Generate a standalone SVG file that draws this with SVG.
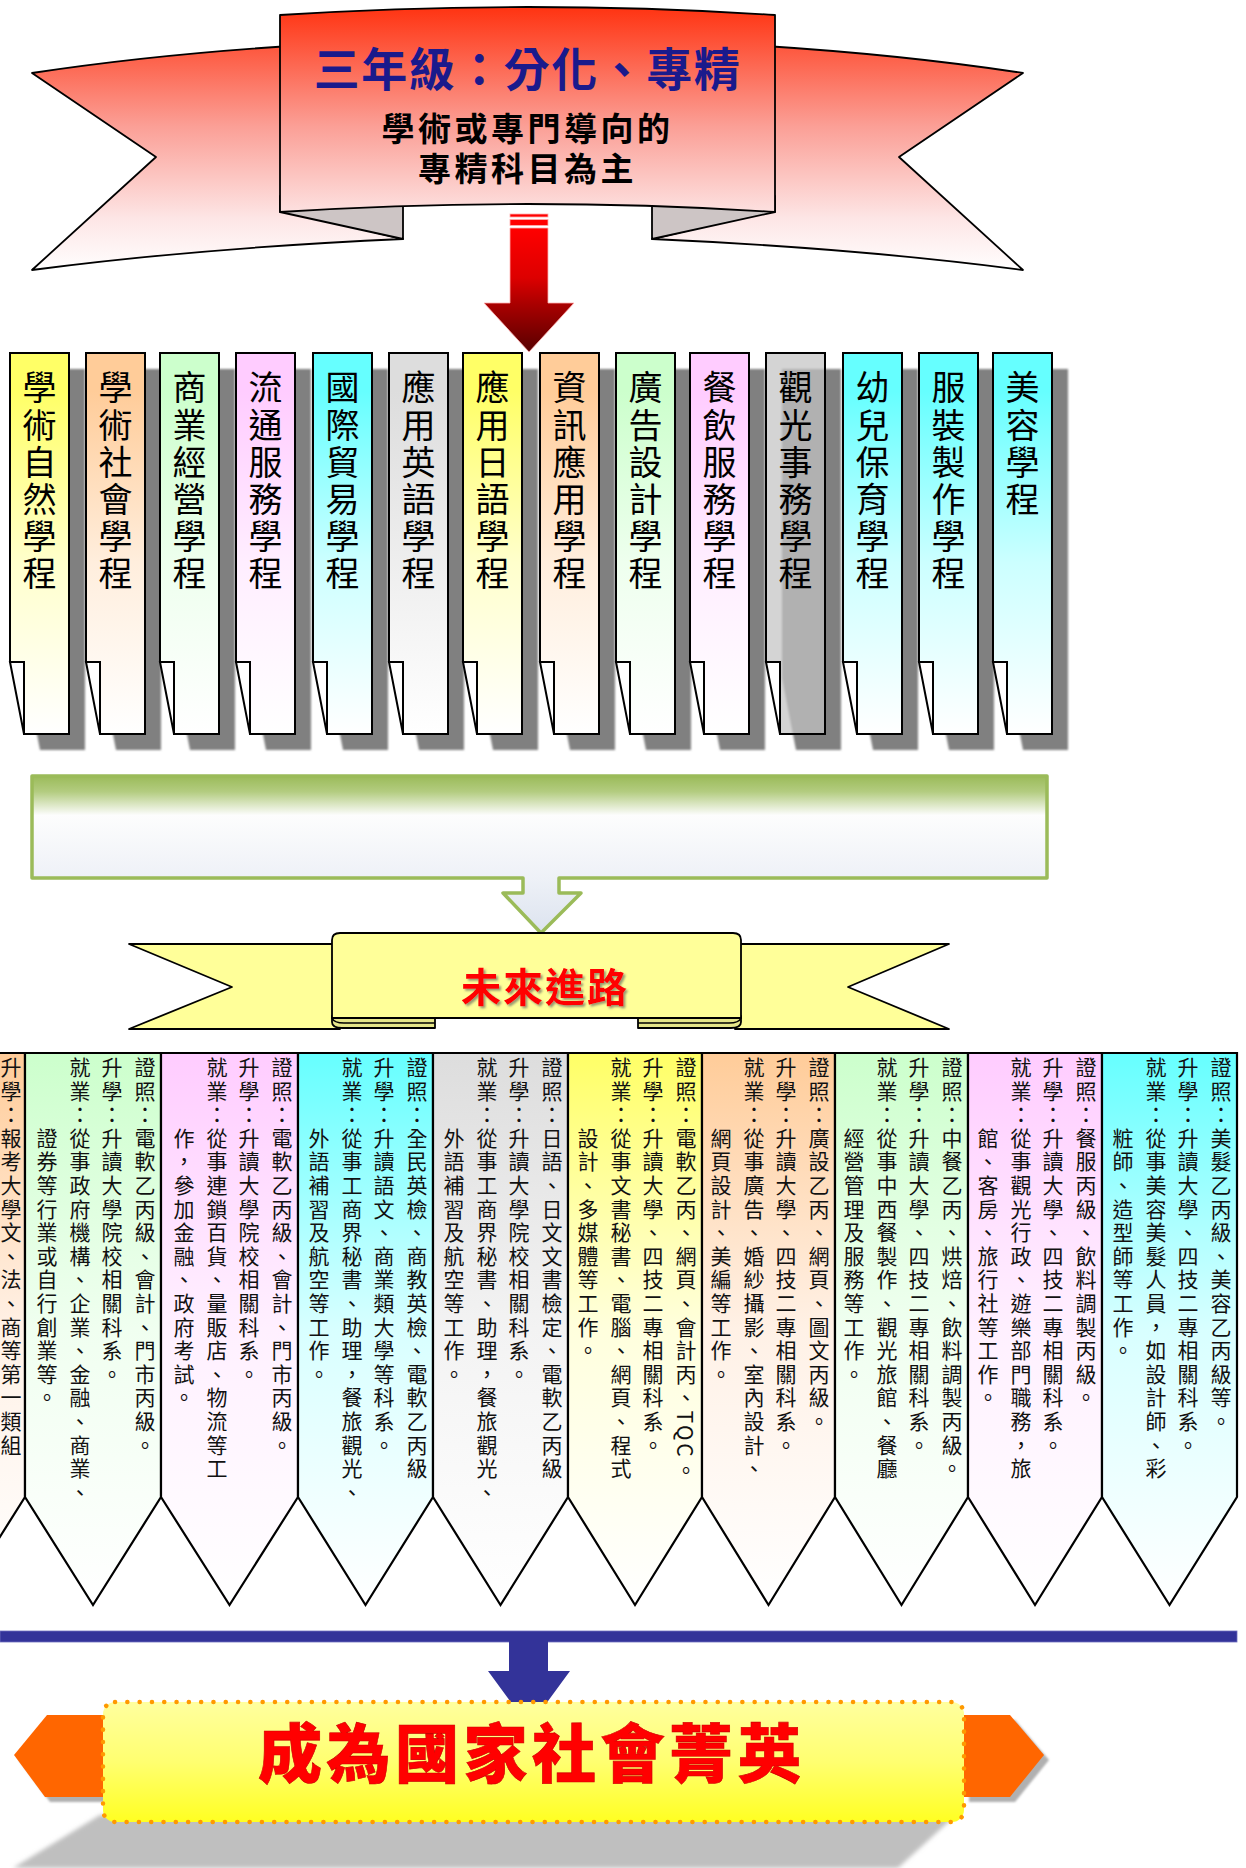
<svg xmlns="http://www.w3.org/2000/svg" width="1246" height="1868" viewBox="0 0 1246 1868">
<style>
text{font-family:'Noto Sans CJK TC','Noto Sans CJK SC',sans-serif;}
.v{writing-mode:vertical-rl;}
.tabt{font-size:34px;letter-spacing:3.1px;fill:#000;}
.pt{font-size:21px;letter-spacing:2.6px;fill:#111;}
.tab{stroke:#000;stroke-width:2;}
.flap{fill:#fff;stroke:#000;stroke-width:2;stroke-linejoin:miter;}
.pen{stroke:#000;stroke-width:2.2;stroke-linejoin:miter;}
.blk{stroke:#000;stroke-width:1.8;stroke-linejoin:round;}
</style>
<defs>
<linearGradient id="gBan" gradientUnits="userSpaceOnUse" x1="0" y1="7" x2="0" y2="272">
<stop offset="0" stop-color="#ff3311"/><stop offset="0.45" stop-color="#fb9f96"/><stop offset="0.8" stop-color="#fde6e6"/><stop offset="1" stop-color="#ffffff"/>
</linearGradient>
<linearGradient id="gRed" gradientUnits="userSpaceOnUse" x1="0" y1="228" x2="0" y2="352">
<stop offset="0" stop-color="#ff0000"/><stop offset="0.4" stop-color="#dd0000"/><stop offset="0.62" stop-color="#a80000"/><stop offset="1" stop-color="#580000"/>
</linearGradient>
<linearGradient id="tY" x1="0" y1="0" x2="0" y2="1"><stop offset="0" stop-color="#ffff66"/><stop offset="0.1" stop-color="#ffff66"/><stop offset="0.55" stop-color="#ffffcc"/><stop offset="1" stop-color="#ffffff"/></linearGradient>
<linearGradient id="tP" x1="0" y1="0" x2="0" y2="1"><stop offset="0" stop-color="#ffcc99"/><stop offset="0.1" stop-color="#ffcc99"/><stop offset="0.55" stop-color="#ffeedd"/><stop offset="1" stop-color="#ffffff"/></linearGradient>
<linearGradient id="tG" x1="0" y1="0" x2="0" y2="1"><stop offset="0" stop-color="#ccffcc"/><stop offset="0.1" stop-color="#ccffcc"/><stop offset="0.55" stop-color="#eeffee"/><stop offset="1" stop-color="#ffffff"/></linearGradient>
<linearGradient id="tK" x1="0" y1="0" x2="0" y2="1"><stop offset="0" stop-color="#ffccff"/><stop offset="0.1" stop-color="#ffccff"/><stop offset="0.55" stop-color="#ffeeff"/><stop offset="1" stop-color="#ffffff"/></linearGradient>
<linearGradient id="tC" x1="0" y1="0" x2="0" y2="1"><stop offset="0" stop-color="#66ffff"/><stop offset="0.1" stop-color="#66ffff"/><stop offset="0.55" stop-color="#ccffff"/><stop offset="1" stop-color="#ffffff"/></linearGradient>
<linearGradient id="tS" x1="0" y1="0" x2="0" y2="1"><stop offset="0" stop-color="#dddddd"/><stop offset="0.1" stop-color="#dddddd"/><stop offset="0.55" stop-color="#eeeeee"/><stop offset="1" stop-color="#ffffff"/></linearGradient>
<linearGradient id="pY" x1="0" y1="0" x2="0" y2="1"><stop offset="0" stop-color="#ffff66"/><stop offset="0.5" stop-color="#ffffdd"/><stop offset="1" stop-color="#ffffff"/></linearGradient>
<linearGradient id="pP" x1="0" y1="0" x2="0" y2="1"><stop offset="0" stop-color="#ffcc99"/><stop offset="0.5" stop-color="#fff1e6"/><stop offset="1" stop-color="#ffffff"/></linearGradient>
<linearGradient id="pG" x1="0" y1="0" x2="0" y2="1"><stop offset="0" stop-color="#ccffcc"/><stop offset="0.5" stop-color="#f0fff0"/><stop offset="1" stop-color="#ffffff"/></linearGradient>
<linearGradient id="pK" x1="0" y1="0" x2="0" y2="1"><stop offset="0" stop-color="#ffccff"/><stop offset="0.5" stop-color="#fff0ff"/><stop offset="1" stop-color="#ffffff"/></linearGradient>
<linearGradient id="pC" x1="0" y1="0" x2="0" y2="1"><stop offset="0" stop-color="#66ffff"/><stop offset="0.5" stop-color="#d8ffff"/><stop offset="1" stop-color="#ffffff"/></linearGradient>
<linearGradient id="pS" x1="0" y1="0" x2="0" y2="1"><stop offset="0" stop-color="#dddddd"/><stop offset="0.5" stop-color="#f3f3f3"/><stop offset="1" stop-color="#ffffff"/></linearGradient>
<linearGradient id="gGreen" gradientUnits="userSpaceOnUse" x1="0" y1="776" x2="0" y2="933">
<stop offset="0" stop-color="#9bbb59"/><stop offset="0.1" stop-color="#b3cc80"/><stop offset="0.25" stop-color="#fdfdfd"/><stop offset="0.65" stop-color="#eef1f7"/><stop offset="1" stop-color="#dce3ef"/>
</linearGradient>
<linearGradient id="gElite" x1="0" y1="0" x2="0" y2="1"><stop offset="0" stop-color="#ffff9e"/><stop offset="0.5" stop-color="#ffff70"/><stop offset="1" stop-color="#ffff22"/></linearGradient>
<filter id="sh" x="-20%" y="-20%" width="140%" height="140%"><feGaussianBlur stdDeviation="1.2"/></filter>
<filter id="sh2" x="-20%" y="-20%" width="140%" height="140%"><feGaussianBlur stdDeviation="2"/></filter>
<filter id="tsh" x="-10%" y="-10%" width="120%" height="130%"><feDropShadow dx="2" dy="2" stdDeviation="1" flood-color="#555" flood-opacity="0.6"/></filter>
<path id="tabShape" d="M0,0 H59 V381 H14 V309 H0 Z"/>
<path id="flapShape" d="M0,309 L14,381 L14,309 Z"/>
</defs>

<rect width="1246" height="1868" fill="#ffffff"/>

<!-- Top banner -->
<g id="top-banner">
<path class="blk" fill="url(#gBan)" d="M32,73 Q150,55 290,46 L290,212 L403,239 Q200,248 32,270 L156,157 Z"/>
<path class="blk" fill="url(#gBan)" d="M1023,73 Q905,55 765,46 L765,212 L652,239 Q855,248 1023,270 L899,157 Z"/>
<path class="blk" fill="#cdc5c5" d="M280,212 L403,239 L403,196 L280,196 Z"/>
<path class="blk" fill="#cdc5c5" d="M775,212 L652,239 L652,196 L775,196 Z"/>
<path class="blk" fill="url(#gBan)" d="M280,15 Q527.5,-1 775,15 L775,212 Q527.5,196 280,212 Z"/>
<text x="527.5" y="86" text-anchor="middle" font-size="46" font-weight="700" letter-spacing="1.5" fill="#1a1a8c">三年級：分化、專精</text>
<text text-anchor="middle" font-size="33" font-weight="700" letter-spacing="3.5" fill="#000"><tspan x="527.5" y="141">學術或專門導向的</tspan><tspan x="527.5" y="181">專精科目為主</tspan></text>
</g>

<!-- Connectors -->
<g id="connectors">
<g id="red-arrow" fill="url(#gRed)" stroke="#ffb0b0" stroke-width="0.8">
<rect x="510" y="214" width="38" height="3" fill="#ff0000"/>
<rect x="510" y="219.5" width="38" height="6" fill="#ff0000"/>
<path d="M510,228 H548 V303 H574 L529,352 L484,303 H510 Z"/>
</g>
<g id="navy-bar" fill="#333399">
<rect x="0" y="1631" width="1237" height="11" stroke="#6f6fbf" stroke-width="0.8"/>
<path d="M509,1641 H548 V1671 H570 L529,1727 L488,1671 H509 Z"/>
</g>
</g>

<!-- Tab shadows -->
<g id="tab-shadows" fill="#808080" filter="url(#sh)">
<use href="#tabShape" x="26" y="369"/><use href="#flapShape" x="26" y="369"/>
<use href="#tabShape" x="102" y="369"/><use href="#flapShape" x="102" y="369"/>
<use href="#tabShape" x="176" y="369"/><use href="#flapShape" x="176" y="369"/>
<use href="#tabShape" x="252" y="369"/><use href="#flapShape" x="252" y="369"/>
<use href="#tabShape" x="329" y="369"/><use href="#flapShape" x="329" y="369"/>
<use href="#tabShape" x="405" y="369"/><use href="#flapShape" x="405" y="369"/>
<use href="#tabShape" x="479" y="369"/><use href="#flapShape" x="479" y="369"/>
<use href="#tabShape" x="556" y="369"/><use href="#flapShape" x="556" y="369"/>
<use href="#tabShape" x="632" y="369"/><use href="#flapShape" x="632" y="369"/>
<use href="#tabShape" x="706" y="369"/><use href="#flapShape" x="706" y="369"/>
<use href="#tabShape" x="782" y="369"/><use href="#flapShape" x="782" y="369"/>
<use href="#tabShape" x="859" y="369"/><use href="#flapShape" x="859" y="369"/>
<use href="#tabShape" x="935" y="369"/><use href="#flapShape" x="935" y="369"/>
<use href="#tabShape" x="1009" y="369"/><use href="#flapShape" x="1009" y="369"/>
</g>

<!-- Tabs -->
<g id="tab1" transform="translate(10,353)"><use href="#tabShape" class="tab" fill="url(#tY)"/><use href="#flapShape" class="flap"/><text class="v tabt" x="29.5" y="17.5">學術自然學程</text></g>
<g id="tab2" transform="translate(86,353)"><use href="#tabShape" class="tab" fill="url(#tP)"/><use href="#flapShape" class="flap"/><text class="v tabt" x="29.5" y="17.5">學術社會學程</text></g>
<g id="tab3" transform="translate(160,353)"><use href="#tabShape" class="tab" fill="url(#tG)"/><use href="#flapShape" class="flap"/><text class="v tabt" x="29.5" y="17.5">商業經營學程</text></g>
<g id="tab4" transform="translate(236,353)"><use href="#tabShape" class="tab" fill="url(#tK)"/><use href="#flapShape" class="flap"/><text class="v tabt" x="29.5" y="17.5">流通服務學程</text></g>
<g id="tab5" transform="translate(313,353)"><use href="#tabShape" class="tab" fill="url(#tC)"/><use href="#flapShape" class="flap"/><text class="v tabt" x="29.5" y="17.5">國際貿易學程</text></g>
<g id="tab6" transform="translate(389,353)"><use href="#tabShape" class="tab" fill="url(#tS)"/><use href="#flapShape" class="flap"/><text class="v tabt" x="29.5" y="17.5">應用英語學程</text></g>
<g id="tab7" transform="translate(463,353)"><use href="#tabShape" class="tab" fill="url(#tY)"/><use href="#flapShape" class="flap"/><text class="v tabt" x="29.5" y="17.5">應用日語學程</text></g>
<g id="tab8" transform="translate(540,353)"><use href="#tabShape" class="tab" fill="url(#tP)"/><use href="#flapShape" class="flap"/><text class="v tabt" x="29.5" y="17.5">資訊應用學程</text></g>
<g id="tab9" transform="translate(616,353)"><use href="#tabShape" class="tab" fill="url(#tG)"/><use href="#flapShape" class="flap"/><text class="v tabt" x="29.5" y="17.5">廣告設計學程</text></g>
<g id="tab10" transform="translate(690,353)"><use href="#tabShape" class="tab" fill="url(#tK)"/><use href="#flapShape" class="flap"/><text class="v tabt" x="29.5" y="17.5">餐飲服務學程</text></g>
<g id="tab11" transform="translate(766,353)"><use href="#tabShape" class="tab" fill="#c4c4c4" fill-opacity="0.72"/><use href="#flapShape" class="flap" fill="#c8c8c8" fill-opacity="0.7"/><text class="v tabt" x="29.5" y="17.5">觀光事務學程</text></g>
<g id="tab12" transform="translate(843,353)"><use href="#tabShape" class="tab" fill="url(#tC)"/><use href="#flapShape" class="flap"/><text class="v tabt" x="29.5" y="17.5">幼兒保育學程</text></g>
<g id="tab13" transform="translate(919,353)"><use href="#tabShape" class="tab" fill="url(#tC)"/><use href="#flapShape" class="flap"/><text class="v tabt" x="29.5" y="17.5">服裝製作學程</text></g>
<g id="tab14" transform="translate(993,353)"><use href="#tabShape" class="tab" fill="url(#tC)"/><use href="#flapShape" class="flap"/><text class="v tabt" x="29.5" y="17.5">美容學程</text></g>

<!-- Green callout -->
<g id="green-callout">
<path d="M32,776 H1047 V878 H559 V893 H581 L541,933 L503,893 H523 V878 H32 Z" fill="url(#gGreen)" stroke="#9bbb59" stroke-width="3.5" stroke-linejoin="round"/>
</g>

<!-- Future ribbon -->
<g id="future-ribbon">
<path class="blk" fill="#ffff99" d="M129,944 L340,944 L340,1029 L129,1029 L232,987 Z"/>
<path class="blk" fill="#ffff99" d="M949,944 L735,944 L735,1029 L949,1029 L848,987 Z"/>
<path class="blk" fill="#e6e68a" d="M332,1016 H435 V1028 H342 Q332,1028 332,1022 Z"/>
<path class="blk" fill="#e6e68a" d="M741,1016 H638 V1028 H731 Q741,1028 741,1022 Z"/>
<path class="blk" fill="#ffff99" d="M332,940 Q332,933 340,933 L733,933 Q741,933 741,940 L741,1018 L332,1018 Z"/>
<path fill="none" stroke="#000" stroke-width="1.5" d="M332,1018 Q334,1023 344,1023 H435 M741,1018 Q739,1023 729,1023 H638"/>
<text x="545" y="1002" text-anchor="middle" font-size="40" font-weight="700" letter-spacing="2" fill="#ff0000" filter="url(#tsh)">未來進路</text>
</g>

<!-- Pennants -->
<g id="pennant0"><polygon class="pen" fill="url(#pP)" points="-111,1053 25,1053 25,1497 -43,1605 -111,1497"/>
<text class="v pt" x="11" y="1056.5">升學：報考大學文、法、商等第一類組</text></g>

<g id="pennant1"><polygon class="pen" fill="url(#pG)" points="25,1053 161,1053 161,1497 93,1605 25,1497"/>
<text class="v pt" x="145" y="1056.5">證照：電軟乙丙級、會計、門市丙級。</text>
<text class="v pt" x="112" y="1056.5">升學：升讀大學院校相關科系。</text>
<text class="v pt" x="80" y="1056.5">就業：從事政府機構、企業、金融、商業、</text>
<text class="v pt" x="47" y="1127.3">證券等行業或自行創業等。</text></g>

<g id="pennant2"><polygon class="pen" fill="url(#pK)" points="161,1053 298,1053 298,1497 229.5,1605 161,1497"/>
<text class="v pt" x="282" y="1056.5">證照：電軟乙丙級、會計、門市丙級。</text>
<text class="v pt" x="249" y="1056.5">升學：升讀大學院校相關科系。</text>
<text class="v pt" x="217" y="1056.5">就業：從事連鎖百貨、量販店、物流等工</text>
<text class="v pt" x="184" y="1127.3">作，參加金融、政府考試。</text></g>

<g id="pennant3"><polygon class="pen" fill="url(#pC)" points="298,1053 433,1053 433,1497 365.5,1605 298,1497"/>
<text class="v pt" x="417" y="1056.5">證照：全民英檢、商教英檢、電軟乙丙級</text>
<text class="v pt" x="384" y="1056.5">升學：升讀語文、商業類大學等科系。</text>
<text class="v pt" x="352" y="1056.5">就業：從事工商界秘書、助理，餐旅觀光、</text>
<text class="v pt" x="319" y="1127.3">外語補習及航空等工作。</text></g>

<g id="pennant4"><polygon class="pen" fill="url(#pS)" points="433,1053 568,1053 568,1497 500.5,1605 433,1497"/>
<text class="v pt" x="552" y="1056.5">證照：日語、日文文書檢定、電軟乙丙級</text>
<text class="v pt" x="519" y="1056.5">升學：升讀大學院校相關科系。</text>
<text class="v pt" x="487" y="1056.5">就業：從事工商界秘書、助理，餐旅觀光、</text>
<text class="v pt" x="454" y="1127.3">外語補習及航空等工作。</text></g>

<g id="pennant5"><polygon class="pen" fill="url(#pY)" points="568,1053 702,1053 702,1497 635,1605 568,1497"/>
<text class="v pt" x="686" y="1056.5">證照：電軟乙丙、網頁、會計丙、TQC。</text>
<text class="v pt" x="653" y="1056.5">升學：升讀大學、四技二專相關科系。</text>
<text class="v pt" x="621" y="1056.5">就業：從事文書秘書、電腦、網頁、程式</text>
<text class="v pt" x="588" y="1127.3">設計、多媒體等工作。</text></g>

<g id="pennant6"><polygon class="pen" fill="url(#pP)" points="702,1053 835,1053 835,1497 768.5,1605 702,1497"/>
<text class="v pt" x="819" y="1056.5">證照：廣設乙丙、網頁、圖文丙級。</text>
<text class="v pt" x="786" y="1056.5">升學：升讀大學、四技二專相關科系。</text>
<text class="v pt" x="754" y="1056.5">就業：從事廣告、婚紗攝影、室內設計、</text>
<text class="v pt" x="721" y="1127.3">網頁設計、美編等工作。</text></g>

<g id="pennant7"><polygon class="pen" fill="url(#pG)" points="835,1053 968,1053 968,1497 901.5,1605 835,1497"/>
<text class="v pt" x="952" y="1056.5">證照：中餐乙丙、烘焙、飲料調製丙級。</text>
<text class="v pt" x="919" y="1056.5">升學：升讀大學、四技二專相關科系。</text>
<text class="v pt" x="887" y="1056.5">就業：從事中西餐製作、觀光旅館、餐廳</text>
<text class="v pt" x="854" y="1127.3">經營管理及服務等工作。</text></g>

<g id="pennant8"><polygon class="pen" fill="url(#pK)" points="968,1053 1102,1053 1102,1497 1035,1605 968,1497"/>
<text class="v pt" x="1086" y="1056.5">證照：餐服丙級、飲料調製丙級。</text>
<text class="v pt" x="1053" y="1056.5">升學：升讀大學、四技二專相關科系。</text>
<text class="v pt" x="1021" y="1056.5">就業：從事觀光行政、遊樂部門職務，旅</text>
<text class="v pt" x="988" y="1127.3">館、客房、旅行社等工作。</text></g>

<g id="pennant9"><polygon class="pen" fill="url(#pC)" points="1102,1053 1237,1053 1237,1497 1169.5,1605 1102,1497"/>
<text class="v pt" x="1221" y="1056.5">證照：美髮乙丙級、美容乙丙級等。</text>
<text class="v pt" x="1188" y="1056.5">升學：升讀大學、四技二專相關科系。</text>
<text class="v pt" x="1156" y="1056.5">就業：從事美容美髮人員，如設計師、彩</text>
<text class="v pt" x="1123" y="1127.3">粧師、造型師等工作。</text></g>

<!-- Bottom goal banner -->
<g id="goal-banner">
<polygon points="100,1815 956,1815 898,1868 13,1868" fill="#bfbfbf" filter="url(#sh2)"/>
<g fill="#b0b0b0" filter="url(#sh)">
<polygon points="19,1760 52,1720 108,1720 108,1802 50,1802"/>
<polygon points="969,1720 1015,1720 1049,1760 1015,1802 969,1802"/>
</g>
<polygon points="14,1755 47,1715 105,1715 105,1797 45,1797" fill="#ff6600"/>
<polygon points="962,1715 1010,1715 1044,1755 1010,1797 962,1797" fill="#ff6600"/>
<rect x="103" y="1702" width="861" height="120" rx="12" fill="url(#gElite)" stroke="#ff9900" stroke-width="4.5" stroke-dasharray="0.1 12.2" stroke-linecap="round"/>
<text x="532" y="1777" text-anchor="middle" font-size="64" font-weight="900" letter-spacing="4.5" fill="#ff0000" stroke="#cc0000" stroke-width="0.6">成為國家社會菁英</text>
</g>
</svg>
